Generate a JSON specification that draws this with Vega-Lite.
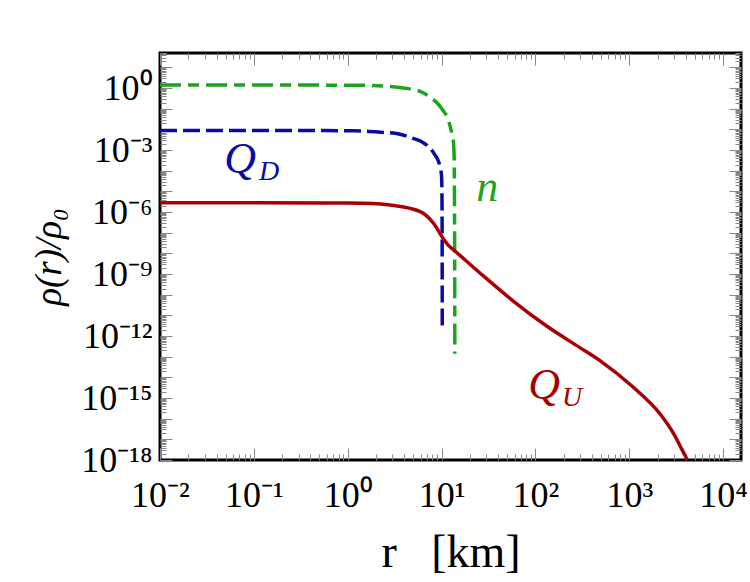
{
  "$schema": "https://vega.github.io/schema/vega-lite/v6.json",
  "width": 581,
  "height": 407,
  "autosize": {"type": "none"},
  "padding": {"left": 160, "top": 53, "right": 9, "bottom": 122},
  "background": "white",
  "config": {"view": {"stroke": "black", "strokeWidth": 3}},
  "datasets": {
    "curves": [
      {"s": "n", "r": 0.01, "rho": 1.41},
      {"s": "n", "r": 0.1, "rho": 1.41},
      {"s": "n", "r": 1.142, "rho": 1.38},
      {"s": "n", "r": 2.065, "rho": 1.30},
      {"s": "n", "r": 3.236, "rho": 1.12},
      {"s": "n", "r": 4.73, "rho": 0.89},
      {"s": "n", "r": 6.0, "rho": 0.68},
      {"s": "n", "r": 7.60, "rho": 0.36},
      {"s": "n", "r": 9.18, "rho": 0.17},
      {"s": "n", "r": 10.33, "rho": 0.085},
      {"s": "n", "r": 11.48, "rho": 0.039},
      {"s": "n", "r": 12.33, "rho": 0.0145},
      {"s": "n", "r": 12.94, "rho": 0.0056},
      {"s": "n", "r": 13.40, "rho": 0.0022},
      {"s": "n", "r": 13.65, "rho": 0.0003},
      {"s": "n", "r": 13.74, "rho": 1e-6},
      {"s": "n", "r": 13.80, "rho": 1e-9},
      {"s": "n", "r": 13.84, "rho": 1.4e-13},
      {"s": "QD", "r": 0.01, "rho": 0.0089},
      {"s": "QD", "r": 0.1, "rho": 0.0089},
      {"s": "QD", "r": 1.142, "rho": 0.0087},
      {"s": "QD", "r": 2.22, "rho": 0.0074},
      {"s": "QD", "r": 3.31, "rho": 0.0063},
      {"s": "QD", "r": 4.95, "rho": 0.0037},
      {"s": "QD", "r": 6.28, "rho": 0.0024},
      {"s": "QD", "r": 7.60, "rho": 0.0012},
      {"s": "QD", "r": 8.56, "rho": 0.00056},
      {"s": "QD", "r": 9.18, "rho": 0.00032},
      {"s": "QD", "r": 9.62, "rho": 0.00016},
      {"s": "QD", "r": 9.98, "rho": 0.00006},
      {"s": "QD", "r": 10.09, "rho": 1e-5},
      {"s": "QD", "r": 10.14, "rho": 1e-7},
      {"s": "QD", "r": 10.17, "rho": 2.3e-12},
      {"s": "QU", "r": 0.01, "rho": 2.82e-6},
      {"s": "QU", "r": 0.1, "rho": 2.82e-6},
      {"s": "QU", "r": 1, "rho": 2.72e-6},
      {"s": "QU", "r": 1.82, "rho": 2.6e-6},
      {"s": "QU", "r": 2.83, "rho": 2.19e-6},
      {"s": "QU", "r": 5.92, "rho": 1.05e-6},
      {"s": "QU", "r": 8.20, "rho": 2.88e-7},
      {"s": "QU", "r": 10.47, "rho": 5.0e-8},
      {"s": "QU", "r": 11.75, "rho": 2.5e-8},
      {"s": "QU", "r": 13.40, "rho": 1.5e-8},
      {"s": "QU", "r": 25.8, "rho": 1.10e-9},
      {"s": "QU", "r": 58.5, "rho": 4.81e-11},
      {"s": "QU", "r": 132.8, "rho": 2.96e-12},
      {"s": "QU", "r": 300.6, "rho": 2.67e-13},
      {"s": "QU", "r": 491, "rho": 6.27e-14},
      {"s": "QU", "r": 1104, "rho": 3.3e-15},
      {"s": "QU", "r": 2142, "rho": 1.63e-16},
      {"s": "QU", "r": 2946, "rho": 1.99e-17},
      {"s": "QU", "r": 3648, "rho": 3.16e-18},
      {"s": "QU", "r": 3954, "rho": 1.56e-18},
      {"s": "QU", "r": 4160, "rho": 1e-18}
    ],
    "labels": [
      {"t": "Q", "s": "QD", "kind": "main", "r": 0.0713, "rho": 3.3e-4},
      {"t": "D", "s": "QD", "kind": "sub", "r": 0.145, "rho": 8.7e-5},
      {"t": "n", "s": "n", "kind": "main", "r": 30.6, "rho": 1.45e-5},
      {"t": "Q", "s": "QU", "kind": "main", "r": 124, "rho": 3.8e-15},
      {"t": "U", "s": "QU", "kind": "sub", "r": 246.6, "rho": 1e-15}
    ]
  },
  "resolve": {"axis": {"x": "independent", "y": "independent"}},
  "layer": [
    {
      "data": {"name": "curves"},
      "transform": [{"filter": "datum.s === 'n'"}],
      "mark": {"type": "line", "color": "#1ca41c", "strokeWidth": 3.5, "strokeDash": [21, 7, 11, 7], "interpolate": "monotone"},
      "encoding": {
        "x": {"field": "r", "type": "quantitative",
          "scale": {"type": "log", "domain": [0.01, 15500], "nice": false},
          "axis": {
            "orient": "bottom", "grid": false, "domain": false, "offset": -12,
            "values": [0.01, 0.1, 1, 10, 100, 1000, 10000],
            "labelExpr": "['10⁻²','10⁻¹','10⁰','10¹','10²','10³','10⁴'][round(log(datum.value)/LN10)+2]",
            "tickSize": 12,
            "labelFont": "Liberation Serif", "labelFontSize": 36, "labelColor": "black",
            "labelPadding": 18, "labelOverlap": false, "labelFlush": false, "labelBound": false,
            "title": "r\u00a0\u00a0\u00a0[km]", "titleFont": "Liberation Serif", "titleFontSize": 46, "titleFontWeight": "normal", "titleColor": "black", "titlePadding": 17
          }
        },
        "y": {"field": "rho", "type": "quantitative",
          "scale": {"type": "log", "domain": [1e-18, 50.1], "nice": false},
          "axis": {
            "orient": "left", "grid": false, "domain": false, "offset": -12,
            "values": [1e-18, 1e-17, 1e-16, 1e-15, 1e-14, 1e-13, 1e-12, 1e-11, 1e-10, 1e-9, 1e-8, 1e-7, 1e-6, 1e-5, 1e-4, 1e-3, 1e-2, 0.1, 1, 10],
            "labelExpr": "round(log(datum.value)/LN10) % 3 == 0 ? ['10⁻¹⁸','','','10⁻¹⁵','','','10⁻¹²','','','10⁻⁹','','','10⁻⁶','','','10⁻³','','','10⁰'][round(log(datum.value)/LN10)+18] : ''",
            "tickSize": 12,
            "labelFont": "Liberation Serif", "labelFontSize": 36, "labelColor": "black",
            "labelPadding": 8, "labelOverlap": false, "labelFlush": false, "labelBound": false,
            "title": "ρ(r)/ρ₀", "titleFont": "Liberation Serif", "titleFontSize": 37, "titleFontStyle": "italic", "titleFontWeight": "normal", "titleColor": "black", "titlePadding": 12
          }
        }
      }
    },
    {
      "data": {"name": "curves"},
      "transform": [{"filter": "datum.s === 'QD'"}],
      "mark": {"type": "line", "color": "#0a0aa6", "strokeWidth": 3.5, "strokeDash": [17, 6], "interpolate": "monotone"},
      "encoding": {
        "x": {"field": "r", "type": "quantitative",
          "scale": {"type": "log", "domain": [0.01, 15500], "nice": false},
          "axis": {
            "orient": "bottom", "grid": false, "domain": false, "labels": false, "title": null, "offset": -6,
            "values": [0.02,0.03,0.04,0.05,0.06,0.07,0.08,0.09,0.2,0.3,0.4,0.5,0.6,0.7,0.8,0.9,2,3,4,5,6,7,8,9,20,30,40,50,60,70,80,90,200,300,400,500,600,700,800,900,2000,3000,4000,5000,6000,7000,8000,9000],
            "tickSize": 6
          }
        },
        "y": {"field": "rho", "type": "quantitative",
          "scale": {"type": "log", "domain": [1e-18, 50.1], "nice": false},
          "axis": {
            "orient": "left", "grid": false, "domain": false, "labels": false, "title": null, "offset": -6,
            "values": [2e-18,3e-18,4e-18,5e-18,6e-18,7e-18,8e-18,9e-18,2e-17,3e-17,4e-17,5e-17,6e-17,7e-17,8e-17,9e-17,2e-16,3e-16,4e-16,5e-16,6e-16,7e-16,8e-16,9e-16,2e-15,3e-15,4e-15,5e-15,6e-15,7e-15,8e-15,9e-15,2e-14,3e-14,4e-14,5e-14,6e-14,7e-14,8e-14,9e-14,2e-13,3e-13,4e-13,5e-13,6e-13,7e-13,8e-13,9e-13,2e-12,3e-12,4e-12,5e-12,6e-12,7e-12,8e-12,9e-12,2e-11,3e-11,4e-11,5e-11,6e-11,7e-11,8e-11,9e-11,2e-10,3e-10,4e-10,5e-10,6e-10,7e-10,8e-10,9e-10,2e-9,3e-9,4e-9,5e-9,6e-9,7e-9,8e-9,9e-9,2e-8,3e-8,4e-8,5e-8,6e-8,7e-8,8e-8,9e-8,2e-7,3e-7,4e-7,5e-7,6e-7,7e-7,8e-7,9e-7,2e-6,3e-6,4e-6,5e-6,6e-6,7e-6,8e-6,9e-6,2e-5,3e-5,4e-5,5e-5,6e-5,7e-5,8e-5,9e-5,2e-4,3e-4,4e-4,5e-4,6e-4,7e-4,8e-4,9e-4,2e-3,3e-3,4e-3,5e-3,6e-3,7e-3,8e-3,9e-3,2e-2,3e-2,4e-2,5e-2,6e-2,7e-2,8e-2,9e-2,0.2,0.3,0.4,0.5,0.6,0.7,0.8,0.9,2,3,4,5,6,7,8,9,20,30,40,50],
            "tickSize": 6
          }
        }
      }
    },
    {
      "data": {"name": "curves"},
      "transform": [{"filter": "datum.s === 'QU'"}],
      "mark": {"type": "line", "color": "#a80000", "strokeWidth": 3.5, "interpolate": "monotone"},
      "encoding": {
        "x": {"field": "r", "type": "quantitative",
          "scale": {"type": "log", "domain": [0.01, 15500], "nice": false},
          "axis": {
            "orient": "top", "grid": false, "domain": false, "labels": false, "title": null, "offset": -12,
            "values": [0.01, 0.1, 1, 10, 100, 1000, 10000],
            "tickSize": 12
          }
        },
        "y": {"field": "rho", "type": "quantitative",
          "scale": {"type": "log", "domain": [1e-18, 50.1], "nice": false},
          "axis": {
            "orient": "right", "grid": false, "domain": false, "labels": false, "title": null, "offset": -12,
            "values": [1e-18, 1e-17, 1e-16, 1e-15, 1e-14, 1e-13, 1e-12, 1e-11, 1e-10, 1e-9, 1e-8, 1e-7, 1e-6, 1e-5, 1e-4, 1e-3, 1e-2, 0.1, 1, 10],
            "tickSize": 12
          }
        }
      }
    },
    {
      "data": {"name": "labels"},
      "transform": [{"filter": "datum.kind === 'main'"}],
      "mark": {"type": "text", "font": "Liberation Serif", "fontStyle": "italic", "fontSize": 44, "align": "center", "baseline": "middle"},
      "encoding": {
        "x": {"field": "r", "type": "quantitative",
          "scale": {"type": "log", "domain": [0.01, 15500], "nice": false},
          "axis": {
            "orient": "top", "grid": false, "domain": false, "labels": false, "title": null, "offset": -6,
            "values": [0.02,0.03,0.04,0.05,0.06,0.07,0.08,0.09,0.2,0.3,0.4,0.5,0.6,0.7,0.8,0.9,2,3,4,5,6,7,8,9,20,30,40,50,60,70,80,90,200,300,400,500,600,700,800,900,2000,3000,4000,5000,6000,7000,8000,9000],
            "tickSize": 6
          }
        },
        "y": {"field": "rho", "type": "quantitative",
          "scale": {"type": "log", "domain": [1e-18, 50.1], "nice": false},
          "axis": {
            "orient": "right", "grid": false, "domain": false, "labels": false, "title": null, "offset": -6,
            "values": [2e-18,3e-18,4e-18,5e-18,6e-18,7e-18,8e-18,9e-18,2e-17,3e-17,4e-17,5e-17,6e-17,7e-17,8e-17,9e-17,2e-16,3e-16,4e-16,5e-16,6e-16,7e-16,8e-16,9e-16,2e-15,3e-15,4e-15,5e-15,6e-15,7e-15,8e-15,9e-15,2e-14,3e-14,4e-14,5e-14,6e-14,7e-14,8e-14,9e-14,2e-13,3e-13,4e-13,5e-13,6e-13,7e-13,8e-13,9e-13,2e-12,3e-12,4e-12,5e-12,6e-12,7e-12,8e-12,9e-12,2e-11,3e-11,4e-11,5e-11,6e-11,7e-11,8e-11,9e-11,2e-10,3e-10,4e-10,5e-10,6e-10,7e-10,8e-10,9e-10,2e-9,3e-9,4e-9,5e-9,6e-9,7e-9,8e-9,9e-9,2e-8,3e-8,4e-8,5e-8,6e-8,7e-8,8e-8,9e-8,2e-7,3e-7,4e-7,5e-7,6e-7,7e-7,8e-7,9e-7,2e-6,3e-6,4e-6,5e-6,6e-6,7e-6,8e-6,9e-6,2e-5,3e-5,4e-5,5e-5,6e-5,7e-5,8e-5,9e-5,2e-4,3e-4,4e-4,5e-4,6e-4,7e-4,8e-4,9e-4,2e-3,3e-3,4e-3,5e-3,6e-3,7e-3,8e-3,9e-3,2e-2,3e-2,4e-2,5e-2,6e-2,7e-2,8e-2,9e-2,0.2,0.3,0.4,0.5,0.6,0.7,0.8,0.9,2,3,4,5,6,7,8,9,20,30,40,50],
            "tickSize": 6
          }
        },
        "text": {"field": "t"},
        "color": {"field": "s", "type": "nominal", "scale": {"domain": ["n", "QD", "QU"], "range": ["#1ca41c", "#0a0aa6", "#a80000"]}, "legend": null}
      }
    },
    {
      "data": {"name": "labels"},
      "transform": [{"filter": "datum.kind === 'sub'"}],
      "mark": {"type": "text", "font": "Liberation Serif", "fontStyle": "italic", "fontSize": 28, "align": "center", "baseline": "middle"},
      "encoding": {
        "x": {"field": "r", "type": "quantitative", "scale": {"type": "log", "domain": [0.01, 15500], "nice": false}, "axis": null},
        "y": {"field": "rho", "type": "quantitative", "scale": {"type": "log", "domain": [1e-18, 50.1], "nice": false}, "axis": null},
        "text": {"field": "t"},
        "color": {"field": "s", "type": "nominal", "scale": {"domain": ["n", "QD", "QU"], "range": ["#1ca41c", "#0a0aa6", "#a80000"]}, "legend": null}
      }
    }
  ]
}
